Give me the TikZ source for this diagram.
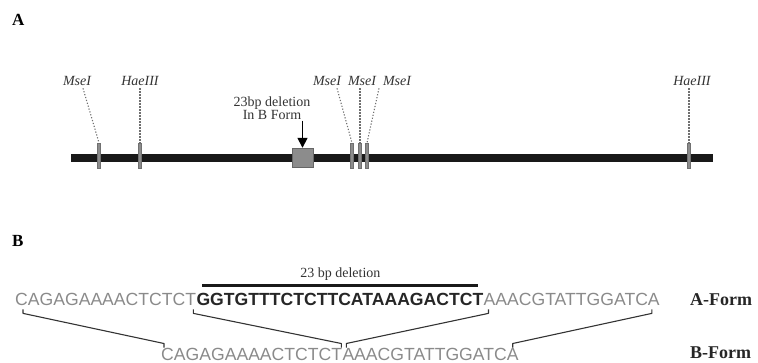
\documentclass[tikz,border=0pt]{standalone}
\usepackage{fontspec}
\setmainfont{Liberation Serif}
\newfontfamily\seqfont{Liberation Sans}
\usepackage{xcolor}
\usetikzlibrary{arrows.meta, positioning, calc}

\definecolor{seqgrey}{HTML}{8A8A8A}
\definecolor{sitegrey}{HTML}{8C8C8C}
\definecolor{dotgrey}{HTML}{707070}

\begin{document}
\begin{tikzpicture}[
  x=1pt, y=-1pt,
  >=Latex,
  panel/.style={font=\fontsize{17}{19}\selectfont\bfseries, inner sep=0pt},
  enzlabel/.style={font=\fontsize{14}{16}\selectfont\itshape, text=black!80, inner sep=2pt},
  site/.style={rectangle, fill=sitegrey, draw=sitegrey!80!black, line width=0.3pt, minimum width=3pt, minimum height=25pt, inner sep=0pt},
  dotline/.style={dotgrey, line width=1.1pt, dash pattern=on 1.2pt off 1.8pt},
  seqgray/.style={font=\fontsize{17.6}{20}\selectfont\seqfont, text=seqgrey, inner sep=0pt},
  seqbold/.style={font=\fontsize{17.6}{20}\selectfont\seqfont\bfseries, text=black!85, inner sep=0pt},
  formlabel/.style={font=\fontsize{18}{20}\selectfont\bfseries, text=black!85, inner sep=0pt},
  link/.style={draw=black!80, line width=1.1pt, line join=round}
]
  \useasboundingbox (0,0) rectangle (758,363);

  % panel A
  \node[panel, anchor=base west] (pa) at (12,26) {A};

  \node[rectangle, fill=black!90, minimum width=642pt, minimum height=8pt, inner sep=0pt] (chrom) at (392,158) {};

  \node[site] (m1) at (99,155.5) {};
  \node[site] (h1) at (140,155.5) {};
  \node[site] (m2) at (352,155.5) {};
  \node[site] (m3) at (360,155.5) {};
  \node[site] (m4) at (367,155.5) {};
  \node[site] (h2) at (689,155.5) {};

  \node[rectangle, fill=gray!90, draw=gray!80!black, line width=0.4pt, minimum width=21pt, minimum height=19pt, inner sep=0pt] (delbox) at (302.5,157.5) {};

  \node[enzlabel, anchor=base] (lm1) at (77,86) {MseI};
  \node[enzlabel, anchor=base] (lh1) at (140,86) {HaeIII};
  \node[enzlabel, anchor=base] (lm2) at (327,86) {MseI};
  \node[enzlabel, anchor=base] (lm3) at (362,86) {MseI};
  \node[enzlabel, anchor=base] (lm4) at (397,86) {MseI};
  \node[enzlabel, anchor=base] (lh2) at (692,86) {HaeIII};

  \draw[dotline] ($(lm1.south)+(6,0)$) -- (m1.north);
  \draw[dotline] (lh1.south) -- (h1.north);
  \draw[dotline] ($(lm2.south)+(10,0)$) -- (m2.north);
  \draw[dotline] ($(lm3.south)+(-2,0)$) -- (m3.north);
  \draw[dotline] ($(lm4.south)+(-18,0)$) -- (m4.north);
  \draw[dotline] ($(lh2.south)+(-3,0)$) -- (h2.north);

  \node[align=center, font=\fontsize{14}{13}\selectfont, text=black!80, inner sep=1pt] (deltxt) at (272,108) {23bp deletion\\In B Form};
  \draw[-{Triangle[width=10pt,length=10pt]}, line width=1.6pt] (delbox.north |- deltxt.south) -- (delbox.north);

  % panel B
  \node[panel, anchor=base west] (pb) at (12,247) {B};

  \node[seqgray, anchor=base west] (aL) at (15,306) {CAGAGAAAACTCTCT};
  \node[seqbold, anchor=base west] (aD) at (aL.base east) {GGTGTTTCTCTTCATAAAGACTCT};
  \node[seqgray, anchor=base west] (aR) at (aD.base east) {AAACGTATTGGATCA};
  \node[formlabel, anchor=base west] (aF) at (690,306) {A-Form};

  \node[seqgray, anchor=base west] (bL) at (161,360) {CAGAGAAAACTCTCT};
  \node[seqgray, anchor=base west] (bR) at (bL.base east) {AAACGTATTGGATCA};
  \node[formlabel, anchor=base west] (bF) at (690,359) {B-Form};

  \coordinate (delL) at ($(aD.north west)+(6,-8)$);
  \coordinate (delR) at ($(aD.north east)+(-5,-8)$);
  \draw[line width=3.5pt, black!90] (delL) -- (delR);
  \node[font=\fontsize{14}{16}\selectfont, text=black!80, inner sep=0pt, anchor=base] (deltag) at ($(delL)!0.5!(delR)+(0,-8)$) {23 bp deletion};

  \draw[link] ($(aL.south west)+(8,3)$) -- ++(0,4) -- ($(bL.north west)+(3,-4)$) -- ++(0,4);
  \draw[link] ($(aL.south east)+(-3,3)$) -- ++(0,4) -- ($(bL.north east)+(-1,-4)$) -- ++(0,4);
  \draw[link] ($(aR.south west)+(5,3)$) -- ++(0,4) -- ($(bR.north west)+(4,-4)$) -- ++(0,4);
  \draw[link] ($(aR.south east)+(-8,3)$) -- ++(0,4) -- ($(bR.north east)+(-6,-4)$) -- ++(0,4);
\end{tikzpicture}
\end{document}
